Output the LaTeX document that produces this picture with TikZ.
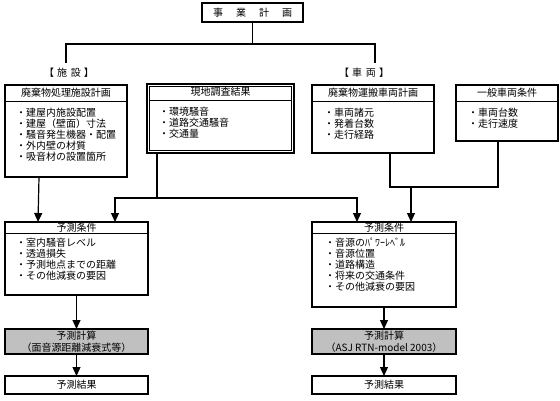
\documentclass[tikz,border=0pt]{standalone}
\usepackage{fontspec}
\setmainfont{Noto Sans CJK JP}
\usetikzlibrary{arrows.meta,positioning,calc}
\definecolor{FrameBlack}{HTML}{000000}
\definecolor{CalcGray}{HTML}{C0C0C0}

\begin{document}
\begin{tikzpicture}[
  x=1pt, y=-1pt,
  frame/.style={draw=FrameBlack, line width=1.2pt, fill=white, inner sep=0pt, outer sep=0pt},
  head/.style={font=\fontsize{10}{11}\selectfont, inner sep=0pt},
  items/.style={font=\fontsize{10}{11}\selectfont, align=left, inner sep=0pt, anchor=north west},
  rule/.style={draw=FrameBlack, line width=0.9pt},
  link/.style={draw=FrameBlack, line width=1.2pt},
  flow/.style={-{Triangle[length=9pt,width=8pt]}, line width=1.2pt, draw=FrameBlack}
]
\useasboundingbox (0,0) rectangle (560,400);

% top
\node[frame, minimum width=101pt, minimum height=19pt, font=\fontsize{10}{11}\selectfont]
  (jigyo) at (252.5,12.5) {事\hspace{1.3em}業\hspace{1.3em}計\hspace{1.3em}画};

\node[head] (shisetsuLabel) at (69,73) {【\hspace{0.3em}施\hspace{0.4em}設\hspace{0.3em}】};
\node[head] (sharyoLabel) at (364,73) {【\hspace{0.3em}車\hspace{0.4em}両\hspace{0.3em}】};
\coordinate (shisetsuTop) at (66,63);
\coordinate (sharyoTop) at (375,63);

% input boxes
\node[frame, minimum width=122pt, minimum height=92pt] (shisetsu) at (66,131) {};
\node[head] at ([yshift=-8pt]shisetsu.north) {廃棄物処理施設計画};
\draw[rule] ([yshift=-16pt]shisetsu.north west) -- ([yshift=-16pt]shisetsu.north east);
\node[items] at ([xshift=11pt,yshift=-23pt]shisetsu.north west) {
  ・建屋内施設配置\\
  ・建屋（壁面）寸法\\
  ・騒音発生機器・配置\\
  ・外内壁の材質\\
  ・吸音材の設置箇所
};

\node[frame, line width=1.8pt, minimum width=147pt, minimum height=69pt] (genchi) at (220.5,118.5) {};
\draw[line width=0.8pt] ([xshift=2.5pt,yshift=-2.5pt]genchi.north west) rectangle ([xshift=-2.5pt,yshift=2.5pt]genchi.south east);
\node[head] at ([yshift=-8pt]genchi.north) {現地調査結果};
\draw[rule] ([xshift=2.5pt,yshift=-16pt]genchi.north west) -- ([xshift=-2.5pt,yshift=-16pt]genchi.north east);
\node[items] at ([xshift=12pt,yshift=-23pt]genchi.north west) {
  ・環境騒音\\
  ・道路交通騒音\\
  ・交通量
};

\node[frame, minimum width=122pt, minimum height=68pt] (unpan) at (373,119) {};
\node[head] at ([yshift=-8pt]unpan.north) {廃棄物運搬車両計画};
\draw[rule] ([yshift=-16pt]unpan.north west) -- ([yshift=-16pt]unpan.north east);
\node[items] at ([xshift=12pt,yshift=-23pt]unpan.north west) {
  ・車両諸元\\
  ・発着台数\\
  ・走行経路
};

\node[frame, minimum width=102pt, minimum height=56pt] (ippan) at (507,113) {};
\node[head] at ([yshift=-8pt]ippan.north) {一般車両条件};
\draw[rule] ([yshift=-16pt]ippan.north west) -- ([yshift=-16pt]ippan.north east);
\node[items] at ([xshift=12pt,yshift=-23pt]ippan.north west) {
  ・車両台数\\
  ・走行速度
};

% prediction conditions
\node[frame, minimum width=143pt, minimum height=73pt] (jokenL) at (76.5,258.5) {};
\node[head] at ([yshift=-5.5pt]jokenL.north) {予測条件};
\draw[rule] ([yshift=-11pt]jokenL.north west) -- ([yshift=-11pt]jokenL.north east);
\node[items] at ([xshift=11pt,yshift=-16pt]jokenL.north west) {
  ・室内騒音レベル\\
  ・透過損失\\
  ・予測地点までの距離\\
  ・その他減衰の要因
};

\node[frame, minimum width=144pt, minimum height=85pt] (jokenR) at (384,264.5) {};
\node[head] at ([yshift=-5.5pt]jokenR.north) {予測条件};
\draw[rule] ([yshift=-11pt]jokenR.north west) -- ([yshift=-11pt]jokenR.north east);
\node[items] at ([xshift=13pt,yshift=-16pt]jokenR.north west) {
  ・音源のﾊﾟﾜｰﾚﾍﾞﾙ\\
  ・音源位置\\
  ・道路構造\\
  ・将来の交通条件\\
  ・その他減衰の要因
};

% calculation and result
\node[frame, fill=CalcGray, minimum width=143pt, minimum height=25pt, align=center,
  font=\fontsize{10}{12}\selectfont] (keisanL) at (76.5,341.5) {予測計算\\（面音源距離減衰式等）};
\node[frame, fill=CalcGray, minimum width=144pt, minimum height=25pt, align=center,
  font=\fontsize{10}{12}\selectfont] (keisanR) at (384,341.5) {予測計算\\（ASJ RTN-model 2003）};
\node[frame, minimum width=143pt, minimum height=18pt, font=\fontsize{10}{11}\selectfont]
  (kekkaL) at (76.5,385) {予測結果};
\node[frame, minimum width=144pt, minimum height=18pt, font=\fontsize{10}{11}\selectfont]
  (kekkaR) at (384,385) {予測結果};

% connectors
\draw[link] (jigyo.south) -- ++(0,22) coordinate (bunten);
\draw[link] (bunten) -| (shisetsuTop);
\draw[link] (bunten) -| (sharyoTop);

\draw[flow] ([xshift=-27pt]shisetsu.south) -- ([xshift=-38.5pt]jokenL.north);
\coordinate (bunki) at (157,198);
\draw[link] ([xshift=-63.5pt]genchi.south) -- (bunki);
\draw[flow] (bunki) -| ([xshift=38.5pt]jokenL.north);
\draw[flow] (bunki) -| ([xshift=-27pt]jokenR.north);

\coordinate (gouryu) at (411,187);
\draw[link] ([xshift=17pt]unpan.south) |- (gouryu);
\draw[link] ([xshift=-9pt]ippan.south) |- (gouryu);
\draw[flow] (gouryu) -- ([xshift=27pt]jokenR.north);

\draw[flow] (jokenL) -- (keisanL);
\draw[flow] (keisanL) -- (kekkaL);
\draw[flow] (jokenR) -- (keisanR);
\draw[flow] (keisanR) -- (kekkaR);

\end{tikzpicture}
\end{document}
